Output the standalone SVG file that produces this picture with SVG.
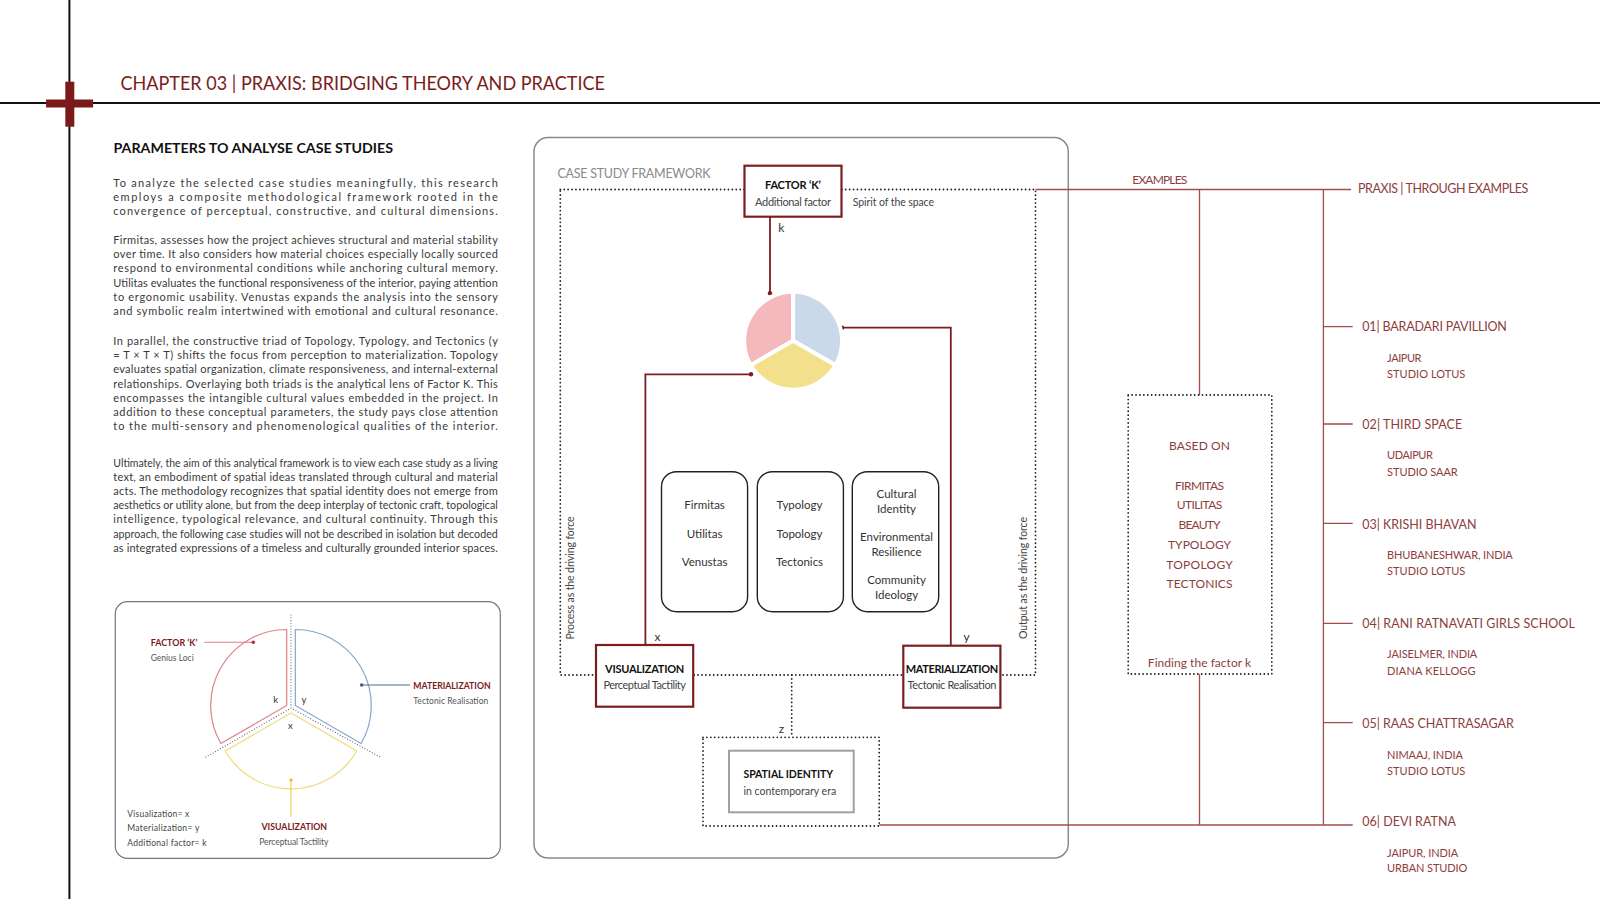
<svg xmlns="http://www.w3.org/2000/svg" width="1600" height="899" viewBox="0 0 1600 899">
<style>
text{font-family:Lato,'Liberation Sans',sans-serif}
.body{font-size:11px;fill:#3a3a3a}
.dr{fill:#7b1c1c}
.rt{fill:#8e3d3d}
.g{fill:#444}
.b{font-weight:bold}
.m{text-anchor:middle}
.dot{fill:none;stroke:#222;stroke-width:1.8;stroke-linecap:round;stroke-dasharray:0.01 3.9}
.sdot{fill:none;stroke:#4a5368;stroke-width:1.1;stroke-linecap:round;stroke-dasharray:0.01 2.8}
.conn{fill:none;stroke:#7a1e1e;stroke-width:1.8}
.rl{fill:none;stroke:#a34c4c;stroke-width:1.3}
.node{fill:#fff;stroke:#7a1e1e;stroke-width:2.2}
.col{fill:#fff;stroke:#222;stroke-width:1.4}
.cd{fill:#7a1e1e}
</style>

<!-- page frame -->
<line x1="69.4" y1="0" x2="69.4" y2="899" stroke="#111" stroke-width="2"/>
<line x1="0" y1="103" x2="1600" y2="103" stroke="#111" stroke-width="2"/>
<rect x="65.3" y="81.7" width="9" height="45" fill="#7a1a1a"/>
<rect x="46.1" y="99.5" width="47" height="8" fill="#7a1a1a"/>

<text x="120.4" y="90" font-size="18.5" class="dr" textLength="484.6" lengthAdjust="spacingAndGlyphs">CHAPTER 03 | PRAXIS: BRIDGING THEORY AND PRACTICE</text>
<text x="113.5" y="152.7" font-size="13" class="b" fill="#111" textLength="279.5" lengthAdjust="spacingAndGlyphs">PARAMETERS TO ANALYSE CASE STUDIES</text>

<!-- paragraphs -->
<g id="paragraphs" class="body">
<text x="113.3" y="186.5" textLength="384.5" lengthAdjust="spacing">To analyze the selected case studies meaningfully, this research</text>
<text x="113.3" y="200.7" textLength="384.5" lengthAdjust="spacing">employs a composite methodological framework rooted in the</text>
<text x="113.3" y="214.9" textLength="384.5" lengthAdjust="spacing">convergence of perceptual, constructive, and cultural dimensions.</text>

<text x="113.3" y="244" textLength="384.5" lengthAdjust="spacing">Firmitas, assesses how the project achieves structural and material stability</text>
<text x="113.3" y="258.2" textLength="384.5" lengthAdjust="spacing">over time. It also considers how material choices especially locally sourced</text>
<text x="113.3" y="272.4" textLength="384.5" lengthAdjust="spacing">respond to environmental conditions while anchoring cultural memory.</text>
<text x="113.3" y="286.6" textLength="384.5" lengthAdjust="spacing">Utilitas evaluates the functional responsiveness of the interior, paying attention</text>
<text x="113.3" y="300.8" textLength="384.5" lengthAdjust="spacing">to ergonomic usability. Venustas expands the analysis into the sensory</text>
<text x="113.3" y="315" textLength="384.5" lengthAdjust="spacing">and symbolic realm intertwined with emotional and cultural resonance.</text>

<text x="113.3" y="345" textLength="384.5" lengthAdjust="spacing">In parallel, the constructive triad of Topology, Typology, and Tectonics (y</text>
<text x="113.3" y="359.2" textLength="384.5" lengthAdjust="spacing">= T × T × T) shifts the focus from perception to materialization. Topology</text>
<text x="113.3" y="373.4" textLength="384.5" lengthAdjust="spacing">evaluates spatial organization, climate responsiveness, and internal-external</text>
<text x="113.3" y="387.6" textLength="384.5" lengthAdjust="spacing">relationships. Overlaying both triads is the analytical lens of Factor K. This</text>
<text x="113.3" y="401.8" textLength="384.5" lengthAdjust="spacing">encompasses the intangible cultural values embedded in the project. In</text>
<text x="113.3" y="416" textLength="384.5" lengthAdjust="spacing">addition to these conceptual parameters, the study pays close attention</text>
<text x="113.3" y="430.2" textLength="384.5" lengthAdjust="spacing">to the multi-sensory and phenomenological qualities of the interior.</text>

<text x="113.3" y="466.5" textLength="384.5" lengthAdjust="spacingAndGlyphs">Ultimately, the aim of this analytical framework is to view each case study as a living</text>
<text x="113.3" y="480.7" textLength="384.5" lengthAdjust="spacing">text, an embodiment of spatial ideas translated through cultural and material</text>
<text x="113.3" y="494.9" textLength="384.5" lengthAdjust="spacing">acts. The methodology recognizes that spatial identity does not emerge from</text>
<text x="113.3" y="509.1" textLength="384.5" lengthAdjust="spacingAndGlyphs">aesthetics or utility alone, but from the deep interplay of tectonic craft, topological</text>
<text x="113.3" y="523.3" textLength="384.5" lengthAdjust="spacing">intelligence, typological relevance, and cultural continuity. Through this</text>
<text x="113.3" y="537.5" textLength="384.5" lengthAdjust="spacingAndGlyphs">approach, the following case studies will not be described in isolation but decoded</text>
<text x="113.3" y="551.7" textLength="384.5" lengthAdjust="spacing">as integrated expressions of a timeless and culturally grounded interior spaces.</text>
</g>

<!-- small legend diagram -->
<g id="legend-diagram">
<rect x="115.3" y="601.7" width="385" height="256.6" rx="12" fill="none" stroke="#777" stroke-width="1.2"/>
<path class="sdot" d="M291,615 V708 M291,708 L204.4,758 M291,708 L380,757"/>
<path d="M286.7,705.5 L286.7,629.5 A76,76 0 0 0 220.9,743.5 Z" fill="none" stroke="#e07f86" stroke-width="1.2"/>
<path d="M295.3,705.5 L295.3,629.5 A76,76 0 0 1 361.1,743.5 Z" fill="none" stroke="#86a6cc" stroke-width="1.2"/>
<path d="M291,713 L225.2,751 A76,76 0 0 0 356.8,751 Z" fill="none" stroke="#f0dc7e" stroke-width="1.2"/>
<line x1="253.3" y1="642.3" x2="204.3" y2="642.3" stroke="#e07f86" stroke-width="1.1"/>
<line x1="361.7" y1="685" x2="410" y2="685" stroke="#4f6e94" stroke-width="1.1"/>
<line x1="291" y1="780" x2="291" y2="816.7" stroke="#e8d04a" stroke-width="1.1"/>
<circle cx="253.3" cy="642.3" r="1.8" fill="#b0303a"/>
<circle cx="361.7" cy="685" r="1.8" fill="#3f5f88"/>
<circle cx="291" cy="780" r="1.8" fill="#e0c640"/>
<text x="275.7" y="702.5" font-size="9.5" class="m" fill="#333">k</text>
<text x="304" y="702.5" font-size="9.5" class="m" fill="#333">y</text>
<text x="290.3" y="728.5" font-size="9.5" class="m" fill="#333">x</text>
<text x="150.7" y="646" font-size="9" class="dr b" textLength="46.7" lengthAdjust="spacingAndGlyphs">FACTOR ‘K’</text>
<text x="150.7" y="661" font-size="8.5" fill="#555">Genius Loci</text>
<text x="413.3" y="688.5" font-size="9" class="dr b" textLength="77.3" lengthAdjust="spacingAndGlyphs">MATERIALIZATION</text>
<text x="413.3" y="704" font-size="8.5" fill="#555" textLength="75" lengthAdjust="spacing">Tectonic Realisation</text>
<text x="294.3" y="829.5" font-size="9" class="dr b m" textLength="65.7" lengthAdjust="spacingAndGlyphs">VISUALIZATION</text>
<text x="293.8" y="845" font-size="8.5" class="m" fill="#555" textLength="69" lengthAdjust="spacing">Perceptual Tactility</text>
<text x="127.3" y="817" font-size="8.5" fill="#444" textLength="62" lengthAdjust="spacing">Visualization= x</text>
<text x="127.3" y="831" font-size="8.5" fill="#444" textLength="72" lengthAdjust="spacing">Materialization= y</text>
<text x="127.3" y="845.5" font-size="8.5" fill="#444" textLength="79.3" lengthAdjust="spacing">Additional factor= k</text>
</g>

<!-- framework container -->
<rect x="534" y="137.5" width="534.3" height="720.5" rx="14" fill="none" stroke="#8a8a8a" stroke-width="1.5"/>
<text x="557.5" y="177.5" font-size="12.5" fill="#8a8a8a" textLength="153" lengthAdjust="spacing">CASE STUDY FRAMEWORK</text>

<!-- connectors -->
<g id="connectors">
<rect class="dot" x="560.3" y="189.5" width="475.2" height="485.5"/>
<path class="dot" d="M791.7,675 V737.3"/>
<path class="conn" d="M770,216.7 V293.3"/>
<path class="conn" d="M842,327.7 H950.8 V645.7"/>
<path class="conn" d="M751,374.3 H645.4 V645"/>
<circle class="cd" cx="770" cy="293.3" r="2.2"/>
<circle class="cd" cx="842" cy="327.7" r="2.2"/>
<circle class="cd" cx="751" cy="374.3" r="2.2"/>
<path class="rl" d="M1035.5,189.5 H1351"/>
<path class="rl" d="M879.2,825 H1352.7"/>
<path class="rl" d="M1199.5,189.5 V395 M1199.5,674 V825"/>
<path class="rl" d="M1323.4,189.5 V825"/>
<path class="rl" d="M1323.4,326.7 H1352.7 M1323.4,424 H1352.7 M1323.4,523.3 H1352.7 M1323.4,623.3 H1352.7 M1323.4,722.7 H1352.7"/>
<text x="781.4" y="231.5" font-size="12" class="m" fill="#333">k</text>
<text x="657.4" y="640.5" font-size="12" class="m" fill="#333">x</text>
<text x="966.6" y="640.5" font-size="12" class="m" fill="#333">y</text>
<text x="781.4" y="733" font-size="12" class="m" fill="#333">z</text>
<text x="1132.3" y="184" font-size="12" class="rt" textLength="55" lengthAdjust="spacing">EXAMPLES</text>
<text transform="translate(574.2,578) rotate(-90)" font-size="10.5" class="m" fill="#444" textLength="123" lengthAdjust="spacing">Process as the driving force</text>
<text transform="translate(1026.6,578) rotate(-90)" font-size="10.5" class="m" fill="#444" textLength="122" lengthAdjust="spacing">Output as the driving force</text>
<text x="852.7" y="206" font-size="10.5" fill="#444" textLength="81.3" lengthAdjust="spacing">Spirit of the space</text>
</g>

<!-- pie -->
<g id="pie" stroke="#fff" stroke-width="4" stroke-linejoin="round">
<path d="M793.1,340.7 L793.1,291.7 A49,49 0 0 0 750.7,365.2 Z" fill="#f3b9bd"/>
<path d="M793.1,340.7 L793.1,291.7 A49,49 0 0 1 835.5,365.2 Z" fill="#cad9ea"/>
<path d="M793.1,340.7 L750.7,365.2 A49,49 0 0 0 835.5,365.2 Z" fill="#f3e08c"/>
</g>

<g id="factorK">
<rect class="node" x="744.5" y="165.7" width="97" height="51"/>
<text x="793" y="188.5" font-size="11" class="b m" fill="#111" textLength="56" lengthAdjust="spacing">FACTOR ‘K’</text>
<text x="793" y="205.5" font-size="11" class="m g" textLength="75.8" lengthAdjust="spacing">Additional factor</text>
</g>

<g id="visualization">
<rect class="node" x="596" y="645" width="97.2" height="61.7"/>
<text x="644.7" y="672.5" font-size="11" class="b m" fill="#111" textLength="79.2" lengthAdjust="spacing">VISUALIZATION</text>
<text x="644.7" y="688.5" font-size="11" class="m g" textLength="82.6" lengthAdjust="spacing">Perceptual Tactility</text>
</g>

<g id="materialization">
<rect class="node" x="903.3" y="645.7" width="97.1" height="62"/>
<text x="952" y="672.5" font-size="11" class="b m" fill="#111" textLength="92.3" lengthAdjust="spacing">MATERIALIZATION</text>
<text x="952" y="688.5" font-size="11" class="m g" textLength="88.8" lengthAdjust="spacing">Tectonic Realisation</text>
</g>

<g id="col-vitruvian">
<rect class="col" x="661.5" y="471.7" width="86.1" height="140" rx="15"/>
<text x="704.6" y="509" font-size="11.5" class="m" fill="#333">Firmitas</text>
<text x="704.6" y="537.7" font-size="11.5" class="m" fill="#333">Utilitas</text>
<text x="704.6" y="566.3" font-size="11.5" class="m" fill="#333">Venustas</text>
</g>
<g id="col-tectonic">
<rect class="col" x="757.3" y="471.7" width="86.1" height="140" rx="15"/>
<text x="799.5" y="509" font-size="11.5" class="m" fill="#333">Typology</text>
<text x="799.5" y="537.7" font-size="11.5" class="m" fill="#333">Topology</text>
<text x="799.5" y="566.3" font-size="11.5" class="m" fill="#333">Tectonics</text>
</g>
<g id="col-cultural">
<rect class="col" x="852.3" y="471.7" width="86.4" height="140" rx="15"/>
<text x="896.5" y="498" font-size="11.5" class="m" fill="#333">Cultural</text>
<text x="896.5" y="513" font-size="11.5" class="m" fill="#333">Identity</text>
<text x="896.5" y="541.3" font-size="11.5" class="m" fill="#333">Environmental</text>
<text x="896.5" y="555.7" font-size="11.5" class="m" fill="#333">Resilience</text>
<text x="896.5" y="584" font-size="11.5" class="m" fill="#333">Community</text>
<text x="896.5" y="598.7" font-size="11.5" class="m" fill="#333">Ideology</text>
</g>

<g id="spatialIdentity">
<rect class="dot" x="703" y="737.3" width="176.2" height="88.7"/>
<rect x="729" y="750.7" width="124.7" height="61.6" fill="#fff" stroke="#a0a0a0" stroke-width="2"/>
<text x="743.5" y="778" font-size="10.5" class="b" fill="#111" textLength="89.5" lengthAdjust="spacing">SPATIAL IDENTITY</text>
<text x="743.5" y="794.5" font-size="10.5" class="g" textLength="92.6" lengthAdjust="spacing">in contemporary era</text>
</g>

<g id="basedOn" class="rt" font-size="12">
<rect class="dot" x="1128.2" y="395" width="143.6" height="279"/>
<text x="1199.5" y="450.3" class="m" textLength="61" lengthAdjust="spacing">BASED ON</text>
<text x="1199.5" y="489.7" class="m" textLength="49.2" lengthAdjust="spacing">FIRMITAS</text>
<text x="1199.5" y="509.3" class="m" textLength="45.5" lengthAdjust="spacing">UTILITAS</text>
<text x="1199.5" y="529" class="m" textLength="42" lengthAdjust="spacing">BEAUTY</text>
<text x="1199.5" y="548.7" class="m" textLength="63" lengthAdjust="spacing">TYPOLOGY</text>
<text x="1199.5" y="568.7" class="m" textLength="66.5" lengthAdjust="spacing">TOPOLOGY</text>
<text x="1199.5" y="588.3" class="m" textLength="66" lengthAdjust="spacing">TECTONICS</text>
<text x="1199.5" y="667.3" class="m" textLength="103.3" lengthAdjust="spacing">Finding the factor k</text>
</g>

<g id="praxis" class="rt">
<text x="1357.9" y="192.5" font-size="12.5" textLength="170.4" lengthAdjust="spacing">PRAXIS | THROUGH EXAMPLES</text>
</g>
<g id="ex01" class="rt">
<text x="1362.3" y="331" font-size="12.5" textLength="144.6" lengthAdjust="spacing">01| BARADARI PAVILLION</text>
<text x="1387.1" y="362" font-size="11" textLength="34.4" lengthAdjust="spacing">JAIPUR</text>
<text x="1387.1" y="378" font-size="11" textLength="78.2" lengthAdjust="spacing">STUDIO LOTUS</text>
</g>
<g id="ex02" class="rt">
<text x="1362.3" y="429.3" font-size="12.5" textLength="99.9" lengthAdjust="spacing">02| THIRD SPACE</text>
<text x="1387.1" y="459.4" font-size="11" textLength="45.8" lengthAdjust="spacing">UDAIPUR</text>
<text x="1387.1" y="475.7" font-size="11" textLength="70.6" lengthAdjust="spacing">STUDIO SAAR</text>
</g>
<g id="ex03" class="rt">
<text x="1362.3" y="528.6" font-size="12.5" textLength="114.3" lengthAdjust="spacing">03| KRISHI BHAVAN</text>
<text x="1387.1" y="559" font-size="11" textLength="125.7" lengthAdjust="spacing">BHUBANESHWAR, INDIA</text>
<text x="1387.1" y="575.4" font-size="11" textLength="78.2" lengthAdjust="spacing">STUDIO LOTUS</text>
</g>
<g id="ex04" class="rt">
<text x="1362.3" y="628.3" font-size="12.5" textLength="212.5" lengthAdjust="spacing">04| RANI RATNAVATI GIRLS SCHOOL</text>
<text x="1387.1" y="658.4" font-size="11" textLength="90.2" lengthAdjust="spacing">JAISELMER, INDIA</text>
<text x="1387.1" y="675" font-size="11" textLength="88.5" lengthAdjust="spacing">DIANA KELLOGG</text>
</g>
<g id="ex05" class="rt">
<text x="1362.3" y="728.3" font-size="12.5" textLength="151.5" lengthAdjust="spacing">05| RAAS CHATTRASAGAR</text>
<text x="1387.1" y="758.7" font-size="11" textLength="75.8" lengthAdjust="spacing">NIMAAJ, INDIA</text>
<text x="1387.1" y="775" font-size="11" textLength="78.2" lengthAdjust="spacing">STUDIO LOTUS</text>
</g>
<g id="ex06" class="rt">
<text x="1362.3" y="826" font-size="12.5" textLength="93.7" lengthAdjust="spacing">06| DEVI RATNA</text>
<text x="1387.1" y="856.7" font-size="11" textLength="71" lengthAdjust="spacing">JAIPUR, INDIA</text>
<text x="1387.1" y="872.3" font-size="11" textLength="80.3" lengthAdjust="spacing">URBAN STUDIO</text>
</g>
</svg>
